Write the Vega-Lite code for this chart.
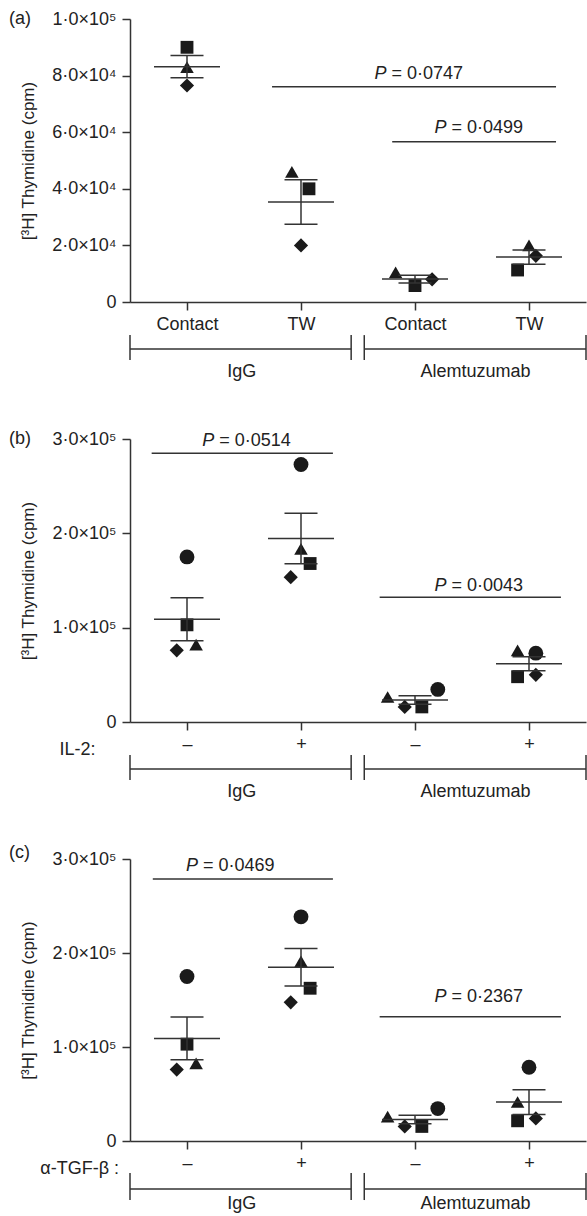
{
  "$schema": "https://vega.github.io/schema/vega-lite/v6.json",
  "padding": {"left": 9, "top": 10, "right": 0, "bottom": 0},
  "config": {
    "font": "Liberation Sans",
    "view": {"stroke": null},
    "axis": {"grid": false, "domainColor": "#333", "tickColor": "#333", "domainWidth": 1.5, "tickWidth": 1.5, "tickSize": 8, "labelColor": "#222", "titleColor": "#222", "titleFontWeight": "normal", "labelFont": "Liberation Sans", "titleFont": "Liberation Sans"},
    "text": {"color": "#222", "font": "Liberation Sans"}
  },
  "datasets": {
    "pa": [
      {"group": 1, "pos": 1, "donor": "sq", "value": 90000},
      {"group": 1, "pos": 1, "donor": "tri", "value": 83000},
      {"group": 1, "pos": 1, "donor": "dia", "value": 76500},
      {"group": 2, "pos": 1.92, "donor": "tri", "value": 46000},
      {"group": 2, "pos": 2.07, "donor": "sq", "value": 40000},
      {"group": 2, "pos": 2, "donor": "dia", "value": 20000},
      {"group": 3, "pos": 2.83, "donor": "tri", "value": 10500},
      {"group": 3, "pos": 3, "donor": "sq", "value": 5800},
      {"group": 3, "pos": 3.15, "donor": "dia", "value": 8000},
      {"group": 4, "pos": 4, "donor": "tri", "value": 20000},
      {"group": 4, "pos": 3.9, "donor": "sq", "value": 11300},
      {"group": 4, "pos": 4.06, "donor": "dia", "value": 16300}
    ],
    "pb": [
      {"group": 1, "pos": 1, "donor": "cir", "value": 175000},
      {"group": 1, "pos": 1, "donor": "sq", "value": 103000},
      {"group": 1, "pos": 0.91, "donor": "dia", "value": 76000},
      {"group": 1, "pos": 1.08, "donor": "tri", "value": 82000},
      {"group": 2, "pos": 2, "donor": "cir", "value": 273000},
      {"group": 2, "pos": 2, "donor": "tri", "value": 183500},
      {"group": 2, "pos": 2.08, "donor": "sq", "value": 168000},
      {"group": 2, "pos": 1.91, "donor": "dia", "value": 153500},
      {"group": 3, "pos": 2.76, "donor": "tri", "value": 26500},
      {"group": 3, "pos": 2.91, "donor": "dia", "value": 16000},
      {"group": 3, "pos": 3.06, "donor": "sq", "value": 16000},
      {"group": 3, "pos": 3.2, "donor": "cir", "value": 34500},
      {"group": 4, "pos": 3.9, "donor": "tri", "value": 76000},
      {"group": 4, "pos": 4.06, "donor": "cir", "value": 73000},
      {"group": 4, "pos": 3.9, "donor": "sq", "value": 48000},
      {"group": 4, "pos": 4.06, "donor": "dia", "value": 50000}
    ],
    "pc": [
      {"group": 1, "pos": 1, "donor": "cir", "value": 175000},
      {"group": 1, "pos": 1, "donor": "sq", "value": 103000},
      {"group": 1, "pos": 0.91, "donor": "dia", "value": 76000},
      {"group": 1, "pos": 1.08, "donor": "tri", "value": 82500},
      {"group": 2, "pos": 2, "donor": "cir", "value": 238500},
      {"group": 2, "pos": 2, "donor": "tri", "value": 191000},
      {"group": 2, "pos": 2.08, "donor": "sq", "value": 162500},
      {"group": 2, "pos": 1.91, "donor": "dia", "value": 147500},
      {"group": 3, "pos": 2.76, "donor": "tri", "value": 26000},
      {"group": 3, "pos": 2.91, "donor": "dia", "value": 15500},
      {"group": 3, "pos": 3.06, "donor": "sq", "value": 15500},
      {"group": 3, "pos": 3.2, "donor": "cir", "value": 34500},
      {"group": 4, "pos": 4, "donor": "cir", "value": 78500},
      {"group": 4, "pos": 3.9, "donor": "tri", "value": 41500},
      {"group": 4, "pos": 3.9, "donor": "sq", "value": 21500},
      {"group": 4, "pos": 4.06, "donor": "dia", "value": 24000}
    ],
    "sa": [
      {"from": 1.746, "to": 4.237, "ly": 76100, "tx": 2.75, "ty": 78800, "p": "= 0·0747"},
      {"from": 2.8, "to": 4.237, "ly": 56600, "tx": 3.276, "ty": 59600, "p": "= 0·0499"}
    ],
    "sb": [
      {"from": 0.69, "to": 2.28, "ly": 284800, "tx": 1.239, "ty": 292600, "p": "= 0·0514"},
      {"from": 2.69, "to": 4.28, "ly": 132200, "tx": 3.276, "ty": 138900, "p": "= 0·0043"}
    ],
    "sc": [
      {"from": 0.7, "to": 2.28, "ly": 278700, "tx": 1.097, "ty": 287600, "p": "= 0·0469"},
      {"from": 2.69, "to": 4.28, "ly": 132200, "tx": 3.276, "ty": 147500, "p": "= 0·2367"}
    ],
    "groups": [
      {"group": "IgG", "from": 0.5, "to": 2.44, "mid": 1.48},
      {"group": "Alemtuzumab", "from": 2.555, "to": 4.5, "mid": 3.53}
    ]
  },
  "vconcat": [
    {
      "width": 456, "height": 283,
      "layer": [
        {
          "data": {"name": "pa"},
          "mark": {"type": "point", "filled": true, "opacity": 1, "color": "#1a1a1a"},
          "encoding": {
            "x": {"field": "pos", "type": "quantitative", "scale": {"domain": [0.5, 4.5], "nice": false, "zero": false},
              "axis": {"values": [1, 2, 3, 4], "labelExpr": "['','Contact','TW','Contact','TW'][datum.value]", "title": null, "labelFontSize": 18, "labelPadding": 5, "labelFlush": false, "labelOverlap": false}},
            "y": {"field": "value", "type": "quantitative", "scale": {"domain": [0, 100000], "nice": false, "zero": false},
              "axis": {"values": [0, 20000, 40000, 60000, 80000, 100000], "labelExpr": "datum.value == 0 ? '0' : datum.value >= 100000 ? replace(format(datum.value / 100000, '.1f'), '.', '·') + '×10⁵' : replace(format(datum.value / 10000, '.1f'), '.', '·') + '×10⁴'", "title": "[³H] Thymidine (cpm)", "labelFontSize": 18, "titleFontSize": 17, "titlePadding": 14, "labelPadding": 6}},
            "shape": {"field": "donor", "type": "nominal", "scale": {"domain": ["sq", "tri", "dia", "cir"], "range": ["square", "triangle-up", "diamond", "circle"]}, "legend": null},
            "size": {"field": "donor", "type": "nominal", "scale": {"domain": ["sq", "tri", "dia", "cir"], "range": [165, 220, 165, 185]}, "legend": null}
          }
        },
        {
          "data": {"name": "pa"},
          "transform": [
            {"aggregate": [{"op": "mean", "field": "value", "as": "m"}, {"op": "stderr", "field": "value", "as": "se"}], "groupby": ["group"]},
            {"calculate": "datum.m - datum.se", "as": "lo"},
            {"calculate": "datum.m + datum.se", "as": "hi"}
          ],
          "layer": [
            {"mark": {"type": "rule", "color": "#333", "strokeWidth": 1.5}, "encoding": {"x": {"field": "group", "type": "quantitative"}, "y": {"field": "lo", "type": "quantitative"}, "y2": {"field": "hi"}}},
            {"mark": {"type": "tick", "orient": "horizontal", "size": 66, "thickness": 1.5, "color": "#333", "opacity": 1}, "encoding": {"x": {"field": "group", "type": "quantitative"}, "y": {"field": "m", "type": "quantitative"}}},
            {"mark": {"type": "tick", "orient": "horizontal", "size": 33, "thickness": 1.5, "color": "#333", "opacity": 1}, "encoding": {"x": {"field": "group", "type": "quantitative"}, "y": {"field": "hi", "type": "quantitative"}}},
            {"mark": {"type": "tick", "orient": "horizontal", "size": 33, "thickness": 1.5, "color": "#333", "opacity": 1}, "encoding": {"x": {"field": "group", "type": "quantitative"}, "y": {"field": "lo", "type": "quantitative"}}}
          ]
        },
        {
          "data": {"name": "sa"},
          "layer": [
            {"mark": {"type": "rule", "color": "#333", "strokeWidth": 1.5}, "encoding": {"x": {"field": "from", "type": "quantitative"}, "x2": {"field": "to"}, "y": {"field": "ly", "type": "quantitative"}}},
            {"mark": {"type": "text", "align": "right", "baseline": "alphabetic", "fontStyle": "italic", "fontSize": 18}, "encoding": {"x": {"field": "tx", "type": "quantitative"}, "y": {"field": "ty", "type": "quantitative"}, "text": {"value": "P"}}},
            {"mark": {"type": "text", "align": "left", "baseline": "alphabetic", "fontSize": 18, "dx": 5}, "encoding": {"x": {"field": "tx", "type": "quantitative"}, "y": {"field": "ty", "type": "quantitative"}, "text": {"field": "p"}}}
          ]
        },
        {
          "data": {"name": "groups"},
          "layer": [
            {"mark": {"type": "rule", "color": "#333", "strokeWidth": 1.5}, "encoding": {"x": {"field": "from", "type": "quantitative"}, "x2": {"field": "to"}, "y": {"datum": -16600, "type": "quantitative"}}},
            {"mark": {"type": "rule", "color": "#333", "strokeWidth": 1.5}, "encoding": {"x": {"field": "from", "type": "quantitative"}, "y": {"datum": -11700, "type": "quantitative"}, "y2": {"datum": -20500}}},
            {"mark": {"type": "rule", "color": "#333", "strokeWidth": 1.5}, "encoding": {"x": {"field": "to", "type": "quantitative"}, "y": {"datum": -11700, "type": "quantitative"}, "y2": {"datum": -20500}}},
            {"mark": {"type": "text", "align": "center", "baseline": "middle", "fontSize": 18}, "encoding": {"x": {"field": "mid", "type": "quantitative"}, "y": {"datum": -24600, "type": "quantitative"}, "text": {"field": "group"}}}
          ]
        },
        {
          "data": {"values": [{"t": "(a)"}]},
          "mark": {"type": "text", "align": "left", "baseline": "middle", "fontSize": 18},
          "encoding": {"x": {"datum": -0.561, "type": "quantitative"}, "y": {"datum": 100000, "type": "quantitative"}, "text": {"field": "t"}}
        }
      ]
    },
    {
      "width": 456, "height": 283,
      "layer": [
        {
          "data": {"name": "pb"},
          "mark": {"type": "point", "filled": true, "opacity": 1, "color": "#1a1a1a"},
          "encoding": {
            "x": {"field": "pos", "type": "quantitative", "scale": {"domain": [0.5, 4.5], "nice": false, "zero": false},
              "axis": {"values": [1, 2, 3, 4], "labelExpr": "['','–','+','–','+'][datum.value]", "title": null, "labelFontSize": 18, "labelPadding": 5, "labelFlush": false, "labelOverlap": false}},
            "y": {"field": "value", "type": "quantitative", "scale": {"domain": [0, 300000], "nice": false, "zero": false},
              "axis": {"values": [0, 100000, 200000, 300000], "labelExpr": "datum.value == 0 ? '0' : replace(format(datum.value / 100000, '.1f'), '.', '·') + '×10⁵'", "title": "[³H] Thymidine (cpm)", "labelFontSize": 18, "titleFontSize": 17, "titlePadding": 14, "labelPadding": 6}},
            "shape": {"field": "donor", "type": "nominal", "scale": {"domain": ["sq", "tri", "dia", "cir"], "range": ["square", "triangle-up", "diamond", "circle"]}, "legend": null},
            "size": {"field": "donor", "type": "nominal", "scale": {"domain": ["sq", "tri", "dia", "cir"], "range": [165, 220, 165, 185]}, "legend": null}
          }
        },
        {
          "data": {"name": "pb"},
          "transform": [
            {"aggregate": [{"op": "mean", "field": "value", "as": "m"}, {"op": "stderr", "field": "value", "as": "se"}], "groupby": ["group"]},
            {"calculate": "datum.m - datum.se", "as": "lo"},
            {"calculate": "datum.m + datum.se", "as": "hi"}
          ],
          "layer": [
            {"mark": {"type": "rule", "color": "#333", "strokeWidth": 1.5}, "encoding": {"x": {"field": "group", "type": "quantitative"}, "y": {"field": "lo", "type": "quantitative"}, "y2": {"field": "hi"}}},
            {"mark": {"type": "tick", "orient": "horizontal", "size": 66, "thickness": 1.5, "color": "#333", "opacity": 1}, "encoding": {"x": {"field": "group", "type": "quantitative"}, "y": {"field": "m", "type": "quantitative"}}},
            {"mark": {"type": "tick", "orient": "horizontal", "size": 33, "thickness": 1.5, "color": "#333", "opacity": 1}, "encoding": {"x": {"field": "group", "type": "quantitative"}, "y": {"field": "hi", "type": "quantitative"}}},
            {"mark": {"type": "tick", "orient": "horizontal", "size": 33, "thickness": 1.5, "color": "#333", "opacity": 1}, "encoding": {"x": {"field": "group", "type": "quantitative"}, "y": {"field": "lo", "type": "quantitative"}}}
          ]
        },
        {
          "data": {"name": "sb"},
          "layer": [
            {"mark": {"type": "rule", "color": "#333", "strokeWidth": 1.5}, "encoding": {"x": {"field": "from", "type": "quantitative"}, "x2": {"field": "to"}, "y": {"field": "ly", "type": "quantitative"}}},
            {"mark": {"type": "text", "align": "right", "baseline": "alphabetic", "fontStyle": "italic", "fontSize": 18}, "encoding": {"x": {"field": "tx", "type": "quantitative"}, "y": {"field": "ty", "type": "quantitative"}, "text": {"value": "P"}}},
            {"mark": {"type": "text", "align": "left", "baseline": "alphabetic", "fontSize": 18, "dx": 5}, "encoding": {"x": {"field": "tx", "type": "quantitative"}, "y": {"field": "ty", "type": "quantitative"}, "text": {"field": "p"}}}
          ]
        },
        {
          "data": {"name": "groups"},
          "layer": [
            {"mark": {"type": "rule", "color": "#333", "strokeWidth": 1.5}, "encoding": {"x": {"field": "from", "type": "quantitative"}, "x2": {"field": "to"}, "y": {"datum": -49800, "type": "quantitative"}}},
            {"mark": {"type": "rule", "color": "#333", "strokeWidth": 1.5}, "encoding": {"x": {"field": "from", "type": "quantitative"}, "y": {"datum": -35000, "type": "quantitative"}, "y2": {"datum": -61500}}},
            {"mark": {"type": "rule", "color": "#333", "strokeWidth": 1.5}, "encoding": {"x": {"field": "to", "type": "quantitative"}, "y": {"datum": -35000, "type": "quantitative"}, "y2": {"datum": -61500}}},
            {"mark": {"type": "text", "align": "center", "baseline": "middle", "fontSize": 18}, "encoding": {"x": {"field": "mid", "type": "quantitative"}, "y": {"datum": -74200, "type": "quantitative"}, "text": {"field": "group"}}}
          ]
        },
        {
          "data": {"values": [{"t": "(b)", "row": "IL-2:"}]},
          "layer": [
            {"mark": {"type": "text", "align": "left", "baseline": "middle", "fontSize": 18}, "encoding": {"x": {"datum": -0.561, "type": "quantitative"}, "y": {"datum": 300000, "type": "quantitative"}, "text": {"field": "t"}}},
            {"mark": {"type": "text", "align": "right", "baseline": "middle", "fontSize": 18}, "encoding": {"x": {"datum": 0.197, "type": "quantitative"}, "y": {"datum": -29700, "type": "quantitative"}, "text": {"field": "row"}}}
          ]
        }
      ]
    },
    {
      "width": 456, "height": 282,
      "layer": [
        {
          "data": {"name": "pc"},
          "mark": {"type": "point", "filled": true, "opacity": 1, "color": "#1a1a1a"},
          "encoding": {
            "x": {"field": "pos", "type": "quantitative", "scale": {"domain": [0.5, 4.5], "nice": false, "zero": false},
              "axis": {"values": [1, 2, 3, 4], "labelExpr": "['','–','+','–','+'][datum.value]", "title": null, "labelFontSize": 18, "labelPadding": 5, "labelFlush": false, "labelOverlap": false}},
            "y": {"field": "value", "type": "quantitative", "scale": {"domain": [0, 300000], "nice": false, "zero": false},
              "axis": {"values": [0, 100000, 200000, 300000], "labelExpr": "datum.value == 0 ? '0' : replace(format(datum.value / 100000, '.1f'), '.', '·') + '×10⁵'", "title": "[³H] Thymidine (cpm)", "labelFontSize": 18, "titleFontSize": 17, "titlePadding": 14, "labelPadding": 6}},
            "shape": {"field": "donor", "type": "nominal", "scale": {"domain": ["sq", "tri", "dia", "cir"], "range": ["square", "triangle-up", "diamond", "circle"]}, "legend": null},
            "size": {"field": "donor", "type": "nominal", "scale": {"domain": ["sq", "tri", "dia", "cir"], "range": [165, 220, 165, 185]}, "legend": null}
          }
        },
        {
          "data": {"name": "pc"},
          "transform": [
            {"aggregate": [{"op": "mean", "field": "value", "as": "m"}, {"op": "stderr", "field": "value", "as": "se"}], "groupby": ["group"]},
            {"calculate": "datum.m - datum.se", "as": "lo"},
            {"calculate": "datum.m + datum.se", "as": "hi"}
          ],
          "layer": [
            {"mark": {"type": "rule", "color": "#333", "strokeWidth": 1.5}, "encoding": {"x": {"field": "group", "type": "quantitative"}, "y": {"field": "lo", "type": "quantitative"}, "y2": {"field": "hi"}}},
            {"mark": {"type": "tick", "orient": "horizontal", "size": 66, "thickness": 1.5, "color": "#333", "opacity": 1}, "encoding": {"x": {"field": "group", "type": "quantitative"}, "y": {"field": "m", "type": "quantitative"}}},
            {"mark": {"type": "tick", "orient": "horizontal", "size": 33, "thickness": 1.5, "color": "#333", "opacity": 1}, "encoding": {"x": {"field": "group", "type": "quantitative"}, "y": {"field": "hi", "type": "quantitative"}}},
            {"mark": {"type": "tick", "orient": "horizontal", "size": 33, "thickness": 1.5, "color": "#333", "opacity": 1}, "encoding": {"x": {"field": "group", "type": "quantitative"}, "y": {"field": "lo", "type": "quantitative"}}}
          ]
        },
        {
          "data": {"name": "sc"},
          "layer": [
            {"mark": {"type": "rule", "color": "#333", "strokeWidth": 1.5}, "encoding": {"x": {"field": "from", "type": "quantitative"}, "x2": {"field": "to"}, "y": {"field": "ly", "type": "quantitative"}}},
            {"mark": {"type": "text", "align": "right", "baseline": "alphabetic", "fontStyle": "italic", "fontSize": 18}, "encoding": {"x": {"field": "tx", "type": "quantitative"}, "y": {"field": "ty", "type": "quantitative"}, "text": {"value": "P"}}},
            {"mark": {"type": "text", "align": "left", "baseline": "alphabetic", "fontSize": 18, "dx": 5}, "encoding": {"x": {"field": "tx", "type": "quantitative"}, "y": {"field": "ty", "type": "quantitative"}, "text": {"field": "p"}}}
          ]
        },
        {
          "data": {"name": "groups"},
          "layer": [
            {"mark": {"type": "rule", "color": "#333", "strokeWidth": 1.5}, "encoding": {"x": {"field": "from", "type": "quantitative"}, "x2": {"field": "to"}, "y": {"datum": -51100, "type": "quantitative"}}},
            {"mark": {"type": "rule", "color": "#333", "strokeWidth": 1.5}, "encoding": {"x": {"field": "from", "type": "quantitative"}, "y": {"datum": -34000, "type": "quantitative"}, "y2": {"datum": -62800}}},
            {"mark": {"type": "rule", "color": "#333", "strokeWidth": 1.5}, "encoding": {"x": {"field": "to", "type": "quantitative"}, "y": {"datum": -34000, "type": "quantitative"}, "y2": {"datum": -62800}}},
            {"mark": {"type": "text", "align": "center", "baseline": "middle", "fontSize": 18}, "encoding": {"x": {"field": "mid", "type": "quantitative"}, "y": {"datum": -67000, "type": "quantitative"}, "text": {"field": "group"}}}
          ]
        },
        {
          "data": {"values": [{"t": "(c)", "row": "α-TGF-β :"}]},
          "layer": [
            {"mark": {"type": "text", "align": "left", "baseline": "middle", "fontSize": 18}, "encoding": {"x": {"datum": -0.561, "type": "quantitative"}, "y": {"datum": 306000, "type": "quantitative"}, "text": {"field": "t"}}},
            {"mark": {"type": "text", "align": "right", "baseline": "middle", "fontSize": 18}, "encoding": {"x": {"datum": 0.404, "type": "quantitative"}, "y": {"datum": -29800, "type": "quantitative"}, "text": {"field": "row"}}}
          ]
        }
      ]
    }
  ],
  "spacing": 137,
  "bounds": "flush"
}
